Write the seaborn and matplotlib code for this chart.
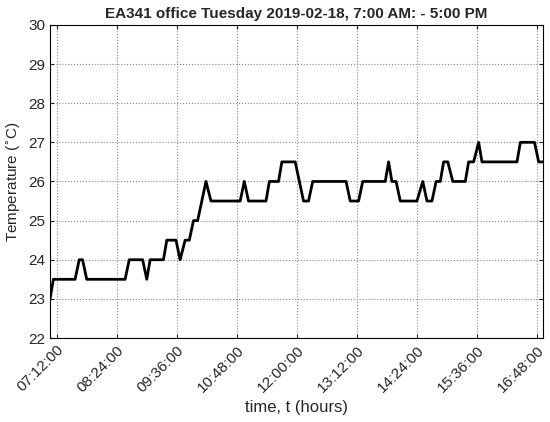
import matplotlib
matplotlib.use("Agg")
import matplotlib.pyplot as plt
import pandas as pd
import seaborn as sns

# breakpoints of the temperature trace
times = ["07:04", "07:08", "07:34", "07:39", "07:43", "07:48", "08:34", "08:39",
         "08:55", "09:00", "09:04", "09:20", "09:24", "09:35", "09:40", "09:46",
         "09:51", "09:56", "10:01", "10:11", "10:17", "10:52", "10:57", "11:02",
         "11:23", "11:27", "11:38", "11:42", "11:58", "12:08", "12:14", "12:19",
         "12:59", "13:04", "13:14", "13:19", "13:46", "13:50", "13:54", "13:59",
         "14:04", "14:24", "14:31", "14:36", "14:42", "14:47", "14:52", "14:56",
         "15:01", "15:07", "15:22", "15:26", "15:32", "15:38", "15:42", "16:24",
         "16:28", "16:45", "16:50", "16:55"]
temps = [23.0, 23.5, 23.5, 24.0, 24.0, 23.5, 23.5, 24.0,
         24.0, 23.5, 24.0, 24.0, 24.5, 24.5, 24.0, 24.5,
         24.5, 25.0, 25.0, 26.0, 25.5, 25.5, 26.0, 25.5,
         25.5, 26.0, 26.0, 26.5, 26.5, 25.5, 25.5, 26.0,
         26.0, 25.5, 25.5, 26.0, 26.0, 26.5, 26.0, 26.0,
         25.5, 25.5, 26.0, 25.5, 25.5, 26.0, 26.0, 26.5,
         26.5, 26.0, 26.0, 26.5, 26.5, 27.0, 26.5, 26.5,
         27.0, 27.0, 26.5, 26.5]
tick_labels = ["07:12:00", "08:24:00", "09:36:00", "10:48:00", "12:00:00",
               "13:12:00", "14:24:00", "15:36:00", "16:48:00"]


def to_hours(s):
    h, m = s.split(":")[:2]
    return int(h) + int(m) / 60


df = pd.DataFrame({"t": [to_hours(s) for s in times], "temp": temps})

sns.set_style("whitegrid")
plt.rcParams["font.family"] = ["Liberation Sans", "DejaVu Sans"]

fig = plt.figure(figsize=(5.5, 4.22), dpi=100)
ax = fig.add_axes([0.091, 0.199, 0.896, 0.742])
sns.lineplot(data=df, x="t", y="temp", ax=ax, color="black", linewidth=2)

ax.set_xlim(df["t"].min(), df["t"].max())
ax.set_ylim(22, 30)
ax.set_yticks(range(22, 31))
ax.set_xticks([to_hours(s) for s in tick_labels])
ax.set_xticklabels(tick_labels, rotation=45, ha="right", rotation_mode="anchor", fontsize=11)
ax.tick_params(axis="y", labelsize=11)
ax.tick_params(direction="in", length=3, left=True, bottom=True, right=True, top=True)
ax.grid(True, linestyle=":", color="#888888", linewidth=0.8)
for sp in ax.spines.values():
    sp.set_color("black")
    sp.set_linewidth(0.8)

ax.set_title("EA341 office Tuesday 2019-02-18, 7:00 AM: - 5:00 PM",
             fontsize=11, fontweight="bold", pad=5)
ax.set_xlabel("time, t (hours)", fontsize=12)
ax.set_ylabel("Temperature ($^{\\circ}$C)", fontsize=11)

fig.savefig("out.png", dpi=100)
